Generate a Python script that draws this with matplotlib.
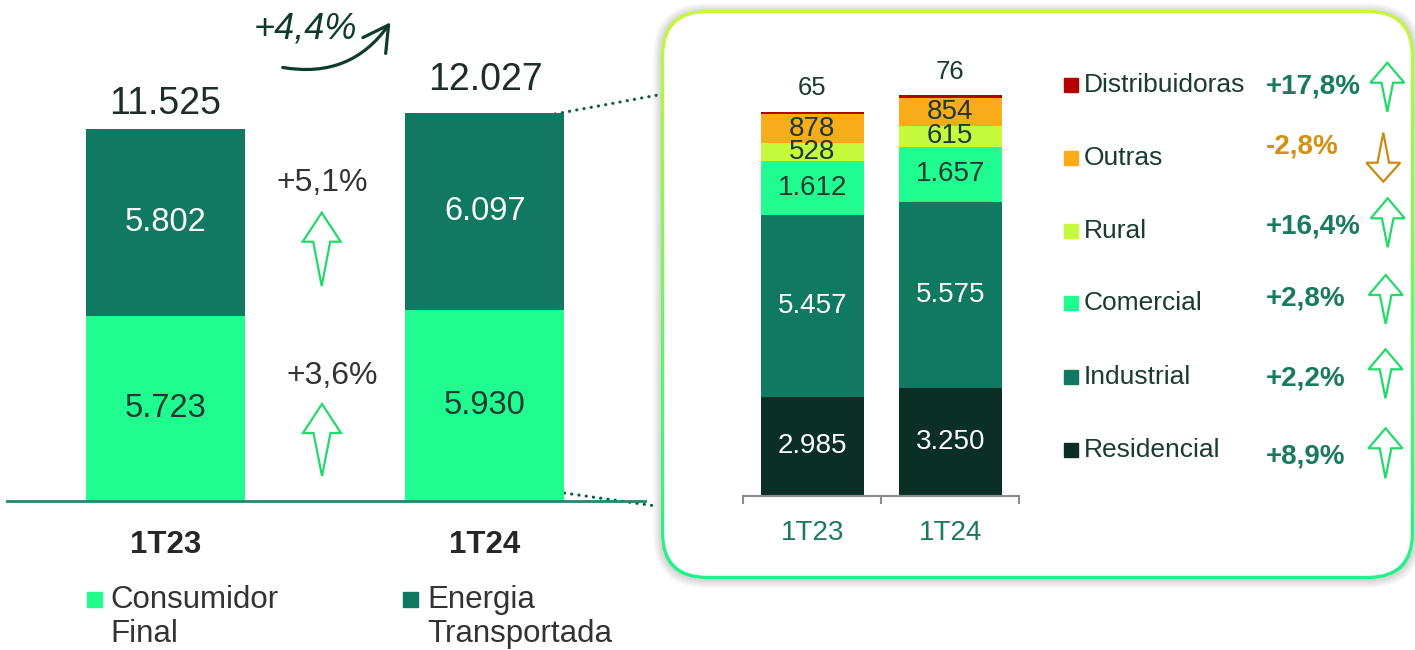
import matplotlib
matplotlib.use('Agg')
import matplotlib.pyplot as plt
import numpy as np
from matplotlib.patches import FancyBboxPatch, Polygon, FancyArrowPatch
from matplotlib.colors import to_rgb

plt.rcParams['font.family'] = ['Liberation Sans', 'DejaVu Sans']

# ---- data ----
periods = ['1T23', '1T24']
consumidor_final = [5723, 5930]
energia_transportada = [5802, 6097]
totals = [11525, 12027]
growth_consumidor = '+3,6%'
growth_energia = '+5,1%'
growth_total = '+4,4%'

classes = ['Residencial', 'Industrial', 'Comercial', 'Rural', 'Outras', 'Distribuidoras']
residencial = [2985, 3250]
industrial = [5457, 5575]
comercial = [1612, 1657]
rural = [528, 615]
outras = [878, 854]
distribuidoras = [65, 76]
class_growth = ['+8,9%', '+2,2%', '+2,8%', '+16,4%', '-2,8%', '+17,8%']

# ---- styles ----
W, H = 1415, 650
C_LIGHT = '#20fc8f'
C_TEAL = '#117862'
C_DARK = '#0b2e27'
C_RURAL = '#c6fb3d'
C_OUTRAS = '#f9ac1a'
C_DIST = '#b40000'
class_colors = [C_DARK, C_TEAL, C_LIGHT, C_RURAL, C_OUTRAS, C_DIST]
class_text = ['white', 'white', '#1a3a32', '#1a3a32', '#1a3a32', '#1a3a32']
TXT_DARK = '#1a3a32'
TXT_GREEN = '#1a7a5f'
TXT_ORANGE = '#d4900f'
ARROW_GREEN = '#22da6a'
ARROW_ORANGE = '#cc8a12'
GRAY = '#333333'


def fmt(v):
    return f'{v:,}'.replace(',', '.')


def px_axes(fig, x0, y0, x1, y1):
    return fig.add_axes([x0 / W, 1 - y1 / H, (x1 - x0) / W, (y1 - y0) / H])


def arrow(ax, xc, ytop, ybot, head_w, head_h, shaft_w, color, up=True):
    if up:
        yb = ytop + head_h
        pts = [(xc, ytop), (xc + head_w / 2, yb), (xc + shaft_w / 2, yb),
               (xc, ybot), (xc - shaft_w / 2, yb), (xc - head_w / 2, yb)]
    else:
        yb = ybot - head_h
        pts = [(xc, ybot), (xc + head_w / 2, yb), (xc + shaft_w / 2, yb),
               (xc, ytop), (xc - shaft_w / 2, yb), (xc - head_w / 2, yb)]
    ax.add_patch(Polygon(pts, closed=True, fill=False, edgecolor=color,
                         lw=1.6, joinstyle='miter', zorder=5))


fig = plt.figure(figsize=(W / 100, H / 100), dpi=100)

# background layer in pixel coordinates
bg = fig.add_axes([0, 0, 1, 1])
bg.set_xlim(0, W)
bg.set_ylim(H, 0)
bg.axis('off')

# rounded box with soft shadow and gradient border
bx0, by0, bx1, by1, rad = 661, 10, 1414, 579, 46
for i in range(8, 0, -1):
    bg.add_patch(FancyBboxPatch((bx0 - i, by0 - i + 1), bx1 - bx0 + 2 * i, by1 - by0 + 2 * i,
                                boxstyle=f'round,pad=0,rounding_size={rad + i}',
                                facecolor='#000000', edgecolor='none', alpha=0.018, zorder=1))
outer = FancyBboxPatch((bx0, by0), bx1 - bx0, by1 - by0,
                       boxstyle=f'round,pad=0,rounding_size={rad}',
                       facecolor='none', edgecolor='none', zorder=2)
bg.add_patch(outer)
top_c = np.array(to_rgb('#c8f83a'))
bot_c = np.array(to_rgb('#1ff28a'))
t = np.linspace(0, 1, 256)[:, None]
grad = (top_c[None, :] * (1 - t) + bot_c[None, :] * t)[:, None, :]
im = bg.imshow(grad, extent=(bx0, bx1, by1, by0), origin='upper', aspect='auto', zorder=2)
im.set_clip_path(outer)
bw = 3.2
bg.add_patch(FancyBboxPatch((bx0 + bw, by0 + bw), bx1 - bx0 - 2 * bw, by1 - by0 - 2 * bw,
                            boxstyle=f'round,pad=0,rounding_size={rad - bw}',
                            facecolor='white', edgecolor='none', zorder=3))
bg.set_xlim(0, W)
bg.set_ylim(H, 0)

# dotted zoom lines
bg.plot([555, 658], [114, 95], color='#0d5c48', lw=2.2, ls=(0, (0.1, 2.3)),
        dash_capstyle='round', zorder=4)
bg.plot([557, 656], [492, 506], color='#0d5c48', lw=2.2, ls=(0, (0.1, 2.3)),
        dash_capstyle='round', zorder=4)

# ---- left chart ----
axl = px_axes(fig, 7, 0, 645, 501)
axl.set_facecolor('none')
xl = np.arange(len(periods))
b1 = axl.bar(xl, consumidor_final, width=0.498, color=C_LIGHT, lw=0)
b2 = axl.bar(xl, energia_transportada, width=0.498, bottom=consumidor_final, color=C_TEAL, lw=0)
axl.bar_label(b1, labels=[fmt(v) for v in consumidor_final], label_type='center',
              fontsize=23.5, color=TXT_DARK)
axl.bar_label(b2, labels=[fmt(v) for v in energia_transportada], label_type='center',
              fontsize=23.5, color='white')
total_offsets = [18, 24]
for i, tot in enumerate(totals):
    axl.annotate(fmt(tot), (xl[i], tot), xytext=(0, total_offsets[i]), textcoords='offset points',
                 ha='center', va='center', fontsize=27, color='#1f2d2a')
axl.set_xlim(-0.496, 1.501)
axl.set_ylim(0, 501 / 0.03227)
for s in ['top', 'left', 'right']:
    axl.spines[s].set_visible(False)
axl.spines['bottom'].set_color('#22876c')
axl.spines['bottom'].set_linewidth(2)
axl.set_yticks([])
axl.set_xticks(xl, periods, fontsize=22.5, fontweight='bold', color='#262626')
axl.tick_params(axis='x', length=0, pad=21)

# growth notes left
bg.text(322, 183, growth_energia, ha='center', va='center', fontsize=23, color=GRAY, zorder=5)
bg.text(332, 376, growth_consumidor, ha='center', va='center', fontsize=23, color=GRAY, zorder=5)
arrow(bg, 321.7, 212.7, 286, 38, 29, 17, ARROW_GREEN)
arrow(bg, 322, 404, 476, 38, 29, 17, ARROW_GREEN)

# total growth with curved arrow
bg.text(305, 29, growth_total, ha='center', va='center', fontsize=26, style='italic',
        color='#0d3b2e', zorder=5)
bg.add_patch(FancyArrowPatch((280, 67), (392, 20), connectionstyle='arc3,rad=0.33',
                             arrowstyle='->,head_length=18,head_width=10', mutation_scale=1,
                             lw=2.3, color='#0d3b2e', zorder=5))

# left legend
bg.add_patch(plt.Rectangle((87, 592), 15, 15, color=C_LIGHT, zorder=5))
bg.text(110, 600, 'Consumidor', ha='left', va='center', fontsize=22.5, color=GRAY, zorder=5)
bg.text(110, 634, 'Final', ha='left', va='center', fontsize=22.5, color=GRAY, zorder=5)
bg.add_patch(plt.Rectangle((403, 592), 15, 15, color=C_TEAL, zorder=5))
bg.text(427, 600, 'Energia', ha='left', va='center', fontsize=22.5, color=GRAY, zorder=5)
bg.text(427, 634, 'Transportada', ha='left', va='center', fontsize=22.5, color=GRAY, zorder=5)

# ---- right chart ----
axr = px_axes(fig, 743.3, 40, 1019.3, 496)
axr.set_facecolor('none')
xr = np.arange(len(periods))
series = [residencial, industrial, comercial, rural, outras, distribuidoras]
bottom = np.zeros(len(periods))
for name, vals, col, tcol in zip(classes, series, class_colors, class_text):
    cont = axr.bar(xr, vals, width=0.744, bottom=bottom, color=col, lw=0)
    if name == 'Distribuidoras':
        for i, v in enumerate(vals):
            axr.annotate(str(v), (xr[i], bottom[i] + v), xytext=(0, 17), textcoords='offset points',
                         ha='center', va='center', fontsize=18.5, color=TXT_DARK)
    else:
        axr.bar_label(cont, labels=[fmt(v) for v in vals], label_type='center',
                      fontsize=20, color=tcol)
    bottom = bottom + np.array(vals)
axr.set_xlim(-0.5, 1.5)
axr.set_ylim(0, 456 / 0.03332)
for s in ['top', 'left', 'right']:
    axr.spines[s].set_visible(False)
axr.spines['bottom'].set_color('#8c8c8c')
axr.spines['bottom'].set_linewidth(1.5)
axr.set_yticks([])
axr.set_xticks([-0.5, 0.5, 1.5], ['', '', ''])
axr.tick_params(axis='x', which='major', length=6, width=1.5, color='#8c8c8c')
axr.set_xticks(xr, periods, minor=True, fontsize=20, color=TXT_GREEN)
axr.tick_params(axis='x', which='minor', length=0, pad=17)

# right legend with growth
label_y = [450, 377, 303, 231, 158, 85]
growth_y = [456.5, 378, 298.5, 226, 147, 87]
arrow_span = [(428.3, 478.3), (349.3, 398.3), (275, 324), (198.3, 247.3), (132.7, 181.7), (62.7, 111.7)]
arrow_x = [1385.5, 1385.5, 1385.7, 1387.7, 1383.3, 1387.3]
for i, name in enumerate(classes):
    bg.add_patch(plt.Rectangle((1064, label_y[i] - 7), 14, 14, color=class_colors[i], zorder=5))
    bg.text(1084, label_y[i], name, ha='left', va='center', fontsize=19, color=TXT_DARK, zorder=5)
    neg = class_growth[i].startswith('-')
    bg.text(1266, growth_y[i], class_growth[i], ha='left', va='center', fontsize=20,
            fontweight='bold', color=TXT_ORANGE if neg else TXT_GREEN, zorder=5)
    arrow(bg, arrow_x[i], arrow_span[i][0], arrow_span[i][1], 34, 20 if not neg else 19, 11.6,
          ARROW_ORANGE if neg else ARROW_GREEN, up=not neg)

fig.savefig('out.png', dpi=100)
